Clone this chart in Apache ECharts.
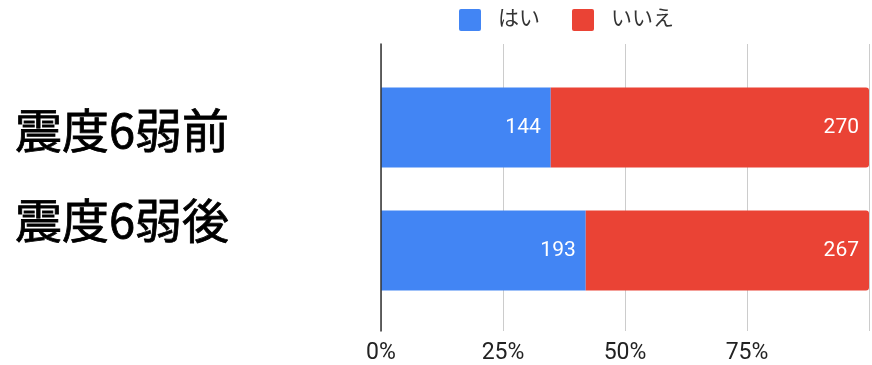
<!DOCTYPE html>
<html>
<head>
<meta charset="utf-8">
<script src="https://cdn.jsdelivr.net/npm/echarts@6/dist/echarts.min.js"></script>
<style>
  html, body { margin: 0; padding: 0; background: #fff; }
  #chart { width: 872px; height: 365px; }
</style>
</head>
<body>
<div id="chart"></div>
<script>
// Survey answers before and after the 震度6弱 earthquake
const categories = ['震度6弱前', '震度6弱後'];
const seriesNames = ['はい', 'いいえ'];
const yesCounts = [144, 193];
const noCounts = [270, 267];
const tickLabels = ['0%', '25%', '50%', '75%'];

const FONT = "Roboto, 'Noto Sans CJK JP', sans-serif";
const CJK_FONT = "'Noto Sans CJK JP', sans-serif";

// each row is drawn as a share of its own total (100% stacked)
const totals = yesCounts.map((v, i) => v + noCounts[i]);
const toShare = (arr) => arr.map((v, i) => ({ value: v / totals[i] * 100, count: v }));

const chart = echarts.init(document.getElementById('chart'));

chart.setOption({
  backgroundColor: '#ffffff',
  animation: false,
  color: ['#4285F4', '#EA4335'],
  legend: {
    data: seriesNames,
    left: 459,
    top: 9,
    padding: 0,
    itemWidth: 22,
    itemHeight: 22,
    itemGap: 32,
    icon: 'path://M2,0 H20 Q22,0 22,2 V20 Q22,22 20,22 H2 Q0,22 0,20 V2 Q0,0 2,0 Z',
    textStyle: { fontFamily: FONT, fontSize: 21, color: '#333', padding: [0, 0, 0, 12] }
  },
  grid: [
    { left: 381, width: 488, top: 44, height: 289 },  // gridlines + percent ticks
    { left: 381, width: 488, top: 66, height: 246 },  // bars
    { left: 381, width: 488, top: 85, height: 180 }   // row captions
  ],
  xAxis: [
    {
      gridIndex: 0, type: 'value', min: 0, max: 100, interval: 25,
      axisLine: { show: false }, axisTick: { show: false },
      splitLine: { show: true, lineStyle: { color: '#cccccc', width: 1 } },
      axisLabel: {
        margin: 11, fontFamily: FONT, fontSize: 23, color: '#222',
        formatter: (v) => tickLabels[Math.round(v / 25)] || ''
      }
    },
    { gridIndex: 1, type: 'value', min: 0, max: 100, show: false },
    { gridIndex: 2, type: 'value', min: 0, max: 100, show: false }
  ],
  yAxis: [
    {
      gridIndex: 0, type: 'category', data: categories, inverse: true, z: 5,
      axisLine: { show: true, lineStyle: { color: '#333', width: 1.5 } },
      axisTick: { show: false }, axisLabel: { show: false }
    },
    { gridIndex: 1, type: 'category', data: categories, inverse: true, show: false },
    {
      gridIndex: 2, type: 'category', data: categories, inverse: true,
      axisLine: { show: false }, axisTick: { show: false },
      axisLabel: {
        align: 'left', margin: 366,
        fontFamily: CJK_FONT, fontSize: 47, fontWeight: 'normal', color: '#000',
        textBorderColor: '#000', textBorderWidth: 0.8
      }
    }
  ],
  series: [
    {
      name: seriesNames[0], type: 'bar', stack: 'total',
      xAxisIndex: 1, yAxisIndex: 1, barWidth: 80,
      data: toShare(yesCounts),
      label: {
        show: true, position: 'insideRight', distance: 10,
        color: '#fff', fontFamily: FONT, fontSize: 21,
        formatter: (p) => p.data.count
      }
    },
    {
      name: seriesNames[1], type: 'bar', stack: 'total',
      xAxisIndex: 1, yAxisIndex: 1, barWidth: 80,
      itemStyle: { borderRadius: [0, 3, 3, 0] },
      data: toShare(noCounts),
      label: {
        show: true, position: 'insideRight', distance: 10,
        color: '#fff', fontFamily: FONT, fontSize: 21,
        formatter: (p) => p.data.count
      }
    }
  ]
});
</script>
</body>
</html>
